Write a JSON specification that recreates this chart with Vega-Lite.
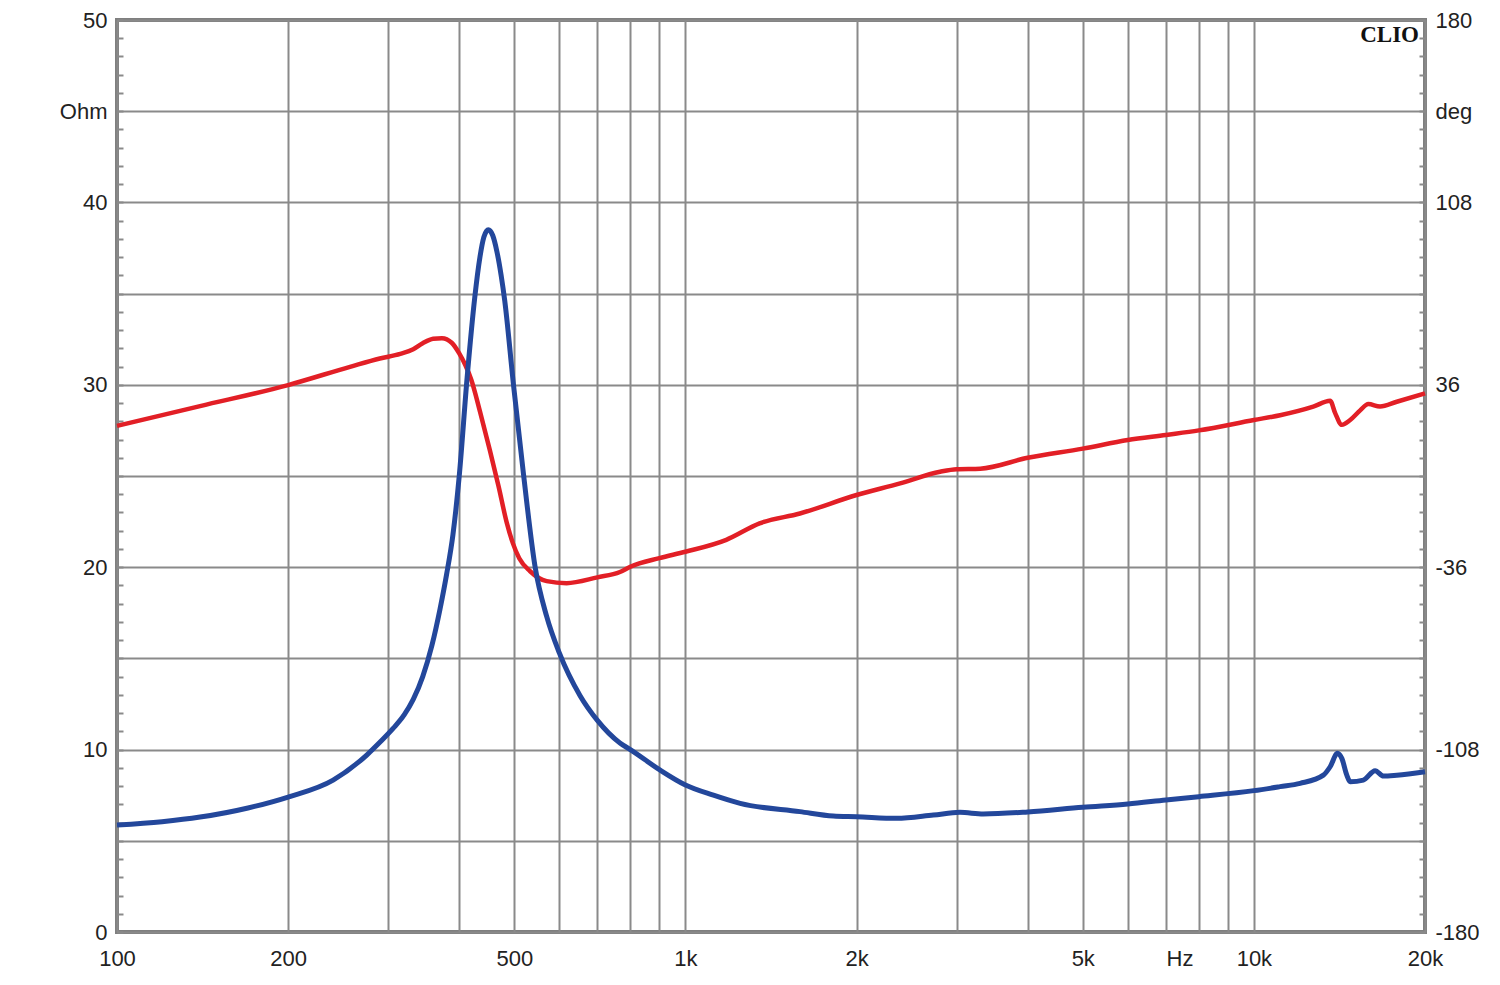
{
  "$schema": "https://vega.github.io/schema/vega-lite/v6.json",
  "width": 1308,
  "height": 912,
  "autosize": {"type": "none"},
  "padding": {"left": 117, "top": 20, "right": 75, "bottom": 53},
  "background": "white",
  "config": {
    "view": {"stroke": "#7f7f7f", "strokeWidth": 4},
    "axis": {
      "labelFont": "Liberation Sans",
      "labelFontSize": 22,
      "labelColor": "#222222",
      "gridColor": "#8a8a8a",
      "gridWidth": 2,
      "gridOpacity": 1,
      "tickColor": "#8a8a8a",
      "tickWidth": 2,
      "labelOverlap": false,
      "labelBound": false,
      "title": null
    }
  },
  "datasets": {
    "imp": [
      {"f": 100, "ohm": 5.87}, {"f": 120, "ohm": 6.05}, {"f": 140, "ohm": 6.3}, {"f": 170, "ohm": 6.8},
      {"f": 200, "ohm": 7.4}, {"f": 240, "ohm": 8.33}, {"f": 275, "ohm": 9.7}, {"f": 290, "ohm": 10.4},
      {"f": 306, "ohm": 11.16}, {"f": 320, "ohm": 11.9}, {"f": 332, "ohm": 12.75}, {"f": 345, "ohm": 14.0},
      {"f": 358, "ohm": 15.7}, {"f": 370, "ohm": 17.7}, {"f": 380, "ohm": 19.6}, {"f": 390, "ohm": 21.8},
      {"f": 400, "ohm": 25.0}, {"f": 413, "ohm": 30.4}, {"f": 426, "ohm": 34.8},
      {"f": 435, "ohm": 37.0}, {"f": 442, "ohm": 38.1}, {"f": 450, "ohm": 38.5}, {"f": 458, "ohm": 38.2},
      {"f": 466, "ohm": 37.3}, {"f": 474, "ohm": 36.0}, {"f": 481, "ohm": 34.6}, {"f": 498, "ohm": 30.07}, {"f": 519, "ohm": 25.08},
      {"f": 544, "ohm": 20.0}, {"f": 570, "ohm": 17.3}, {"f": 600, "ohm": 15.3}, {"f": 653, "ohm": 12.94},
      {"f": 700, "ohm": 11.6}, {"f": 767, "ohm": 10.36}, {"f": 800, "ohm": 10.0}, {"f": 900, "ohm": 8.9},
      {"f": 1000, "ohm": 8.06}, {"f": 1120, "ohm": 7.5}, {"f": 1248, "ohm": 7.05}, {"f": 1590, "ohm": 6.6},
      {"f": 1820, "ohm": 6.36}, {"f": 2000, "ohm": 6.32}, {"f": 2353, "ohm": 6.23}, {"f": 2730, "ohm": 6.41},
      {"f": 3040, "ohm": 6.56}, {"f": 3342, "ohm": 6.47}, {"f": 4000, "ohm": 6.58}, {"f": 5000, "ohm": 6.84},
      {"f": 6000, "ohm": 7.02}, {"f": 7000, "ohm": 7.24}, {"f": 8000, "ohm": 7.42}, {"f": 10000, "ohm": 7.75},
      {"f": 11120, "ohm": 7.97}, {"f": 12060, "ohm": 8.15}, {"f": 13250, "ohm": 8.6}, {"f": 13620, "ohm": 9.06},
      {"f": 14030, "ohm": 9.8}, {"f": 14280, "ohm": 9.52}, {"f": 14570, "ohm": 8.6}, {"f": 14770, "ohm": 8.24},
      {"f": 15580, "ohm": 8.33}, {"f": 16340, "ohm": 8.84}, {"f": 16900, "ohm": 8.55}, {"f": 17840, "ohm": 8.6},
      {"f": 20000, "ohm": 8.79}
    ],
    "phase": [
      {"f": 100, "deg": 19.8}, {"f": 140, "deg": 27.6}, {"f": 200, "deg": 35.9}, {"f": 257, "deg": 43.1},
      {"f": 290, "deg": 46.4}, {"f": 315, "deg": 48.2}, {"f": 332, "deg": 50.0}, {"f": 345, "deg": 52.4},
      {"f": 360, "deg": 54.2}, {"f": 373, "deg": 54.4}, {"f": 388, "deg": 52.6}, {"f": 400, "deg": 48.4},
      {"f": 410, "deg": 43.8}, {"f": 420, "deg": 38.0}, {"f": 435, "deg": 25.5}, {"f": 453, "deg": 10.0},
      {"f": 469, "deg": -4.0}, {"f": 485, "deg": -18.5}, {"f": 497, "deg": -26.5},
      {"f": 510, "deg": -32.5}, {"f": 533, "deg": -37.6}, {"f": 570, "deg": -41.5}, {"f": 618, "deg": -42.3},
      {"f": 700, "deg": -40.0}, {"f": 767, "deg": -37.9}, {"f": 800, "deg": -35.8}, {"f": 900, "deg": -32.4},
      {"f": 1000, "deg": -29.9}, {"f": 1180, "deg": -25.2}, {"f": 1350, "deg": -18.7}, {"f": 1590, "deg": -14.8},
      {"f": 2000, "deg": -7.5}, {"f": 2386, "deg": -2.9}, {"f": 2805, "deg": 1.7}, {"f": 3000, "deg": 2.7},
      {"f": 3300, "deg": 2.9}, {"f": 4000, "deg": 7.2}, {"f": 5000, "deg": 10.8}, {"f": 6000, "deg": 14.2},
      {"f": 7000, "deg": 16.2}, {"f": 8000, "deg": 18.0}, {"f": 10000, "deg": 22.1}, {"f": 11120, "deg": 24.0},
      {"f": 12720, "deg": 27.4}, {"f": 13620, "deg": 29.7}, {"f": 13900, "deg": 24.8}, {"f": 14280, "deg": 20.2},
      {"f": 14770, "deg": 22.1}, {"f": 15380, "deg": 25.9}, {"f": 15900, "deg": 28.4}, {"f": 16670, "deg": 27.4},
      {"f": 17840, "deg": 29.3}, {"f": 20000, "deg": 32.6}
    ]
  },
  "resolve": {
    "scale": {"y": "independent"},
    "axis": {"x": "independent", "y": "independent"}
  },
  "layer": [
    {
      "data": {"name": "imp"},
      "mark": {"type": "line", "strokeOpacity": 0},
      "encoding": {
        "x": {"field": "f", "type": "quantitative",
          "scale": {"type": "log", "domain": [100, 20000], "nice": false},
          "axis": {"values": [100,200,300,400,500,600,700,800,900,1000,2000,3000,4000,5000,6000,7000,8000,9000,10000,20000],
            "grid": true, "labels": false, "ticks": false, "domain": false}},
        "y": {"field": "ohm", "type": "quantitative",
          "scale": {"domain": [0, 50], "nice": false, "zero": false},
          "axis": {"orient": "left", "values": [0,5,10,15,20,25,30,35,40,45,50],
            "grid": true, "labels": false, "ticks": false, "domain": false}}
      }
    },
    {
      "data": {"name": "imp"},
      "mark": {"type": "line", "strokeOpacity": 0},
      "encoding": {
        "x": {"field": "f", "type": "quantitative",
          "scale": {"type": "log", "domain": [100, 20000], "nice": false}, "axis": null},
        "y": {"field": "ohm", "type": "quantitative",
          "scale": {"domain": [0, 50], "nice": false, "zero": false},
          "axis": {"orient": "left", "values": [0,1,2,3,4,5,6,7,8,9,10,11,12,13,14,15,16,17,18,19,20,21,22,23,24,25,26,27,28,29,30,31,32,33,34,35,36,37,38,39,40,41,42,43,44,45,46,47,48,49,50],
            "grid": false, "labels": false, "ticks": true, "tickSize": -6, "domain": false}}
      }
    },
    {
      "data": {"name": "imp"},
      "mark": {"type": "line", "strokeOpacity": 0},
      "encoding": {
        "x": {"field": "f", "type": "quantitative",
          "scale": {"type": "log", "domain": [100, 20000], "nice": false}, "axis": null},
        "y": {"field": "ohm", "type": "quantitative",
          "scale": {"domain": [0, 50], "nice": false, "zero": false},
          "axis": {"orient": "right", "values": [0,1,2,3,4,5,6,7,8,9,10,11,12,13,14,15,16,17,18,19,20,21,22,23,24,25,26,27,28,29,30,31,32,33,34,35,36,37,38,39,40,41,42,43,44,45,46,47,48,49,50],
            "grid": false, "labels": false, "ticks": true, "tickSize": -6, "domain": false}}
      }
    },
    {
      "data": {"name": "imp"},
      "mark": {"type": "line", "strokeOpacity": 0},
      "encoding": {
        "x": {"field": "f", "type": "quantitative",
          "scale": {"type": "log", "domain": [100, 20000], "nice": false},
          "axis": {"orient": "bottom", "values": [100,200,500,1000,2000,5000,7400,10000,20000],
            "labelExpr": "datum.value == 7400 ? 'Hz' : (datum.value >= 1000 ? (datum.value / 1000) + 'k' : datum.value + '')",
            "grid": false, "ticks": false, "domain": false, "labelFlush": false, "labelPadding": 16}},
        "y": {"field": "ohm", "type": "quantitative",
          "scale": {"domain": [0, 50], "nice": false, "zero": false},
          "axis": {"orient": "left", "values": [0,10,20,30,40,45,50],
            "labelExpr": "datum.value == 45 ? 'Ohm' : datum.value + ''",
            "grid": false, "ticks": false, "domain": false, "labelPadding": 10}}
      }
    },
    {
      "data": {"name": "phase"},
      "mark": {"type": "line", "strokeOpacity": 0},
      "encoding": {
        "x": {"field": "f", "type": "quantitative",
          "scale": {"type": "log", "domain": [100, 20000], "nice": false}, "axis": null},
        "y": {"field": "deg", "type": "quantitative",
          "scale": {"domain": [-180, 180], "nice": false, "zero": false},
          "axis": {"orient": "right", "values": [-180,-108,-36,36,108,144,180],
            "labelExpr": "datum.value == 144 ? 'deg' : datum.value + ''",
            "grid": false, "ticks": false, "domain": false, "labelPadding": 10}}
      }
    },
    {
      "data": {"name": "phase"},
      "mark": {"type": "line", "color": "#e21f26", "strokeWidth": 4.5, "interpolate": "monotone"},
      "encoding": {
        "x": {"field": "f", "type": "quantitative",
          "scale": {"type": "log", "domain": [100, 20000], "nice": false}, "axis": null},
        "y": {"field": "deg", "type": "quantitative",
          "scale": {"domain": [-180, 180], "nice": false, "zero": false}, "axis": null}
      }
    },
    {
      "data": {"name": "imp"},
      "mark": {"type": "line", "color": "#23479b", "strokeWidth": 5, "interpolate": "monotone"},
      "encoding": {
        "x": {"field": "f", "type": "quantitative",
          "scale": {"type": "log", "domain": [100, 20000], "nice": false}, "axis": null},
        "y": {"field": "ohm", "type": "quantitative",
          "scale": {"domain": [0, 50], "nice": false, "zero": false}, "axis": null}
      }
    },
    {
      "data": {"values": [{"label": "CLIO"}]},
      "mark": {"type": "text", "font": "Liberation Serif", "fontWeight": "bold", "fontSize": 23,
        "align": "right", "baseline": "alphabetic", "dx": -6, "dy": 22, "color": "#111111"},
      "encoding": {
        "x": {"datum": 20000, "type": "quantitative",
          "scale": {"type": "log", "domain": [100, 20000], "nice": false}, "axis": null},
        "y": {"datum": 50, "type": "quantitative",
          "scale": {"domain": [0, 50], "nice": false, "zero": false}, "axis": null},
        "text": {"field": "label"}
      }
    }
  ]
}
